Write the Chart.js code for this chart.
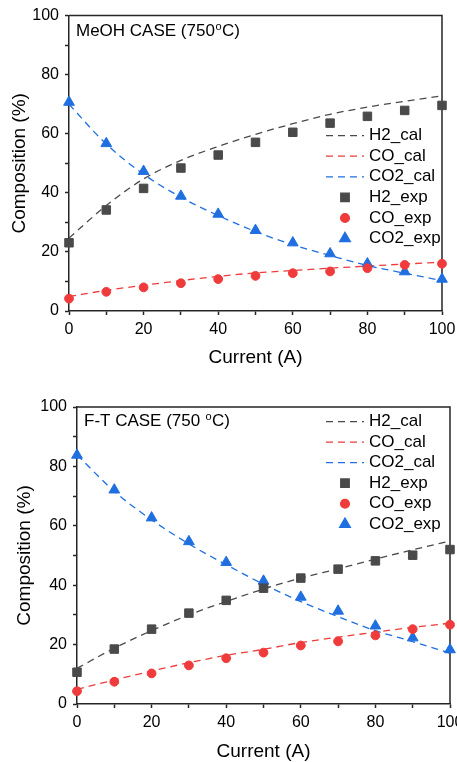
<!DOCTYPE html>
<html lang="en">
<head>
<meta charset="UTF-8">
<title>Syngas composition vs current</title>
<script src="https://cdn.jsdelivr.net/npm/chart.js"></script>
<style>
  html, body { margin: 0; padding: 0; background: #fff; overflow: hidden; }
  body { width: 457px; height: 762px; position: relative; }
  .panel { position: absolute; left: 0; width: 457px; overflow: hidden; }
  #topPanel { top: 0; height: 370px; }
  #bottomPanel { top: 385px; height: 377px; }
  .inner { position: relative; height: 100%; width: 480px; }
</style>
</head>
<body>
<div class="panel" id="topPanel"><div class="inner"><canvas id="meohChart"></canvas></div></div>
<div class="panel" id="bottomPanel"><div class="inner"><canvas id="ftChart"></canvas></div></div>

<script>
// current (A) and major tick values
const current = [0, 10, 20, 30, 40, 50, 60, 70, 80, 90, 100];
const majorTicks = [0, 20, 40, 60, 80, 100];

// MeOH case (750 C), composition %
const meohH2Cal  = [24.7, 35.7, 44.7, 51.0, 55.7, 59.8, 63.4, 66.6, 69.0, 71.0, 72.8];
const meohCOCal  = [4.9, 7.0, 8.7, 10.3, 11.7, 12.9, 13.7, 14.5, 15.2, 15.9, 16.5];
const meohCO2Cal = [70.0, 56.5, 46.3, 38.5, 32.3, 26.9, 22.4, 18.8, 15.4, 12.8, 10.3];
const meohH2Exp  = [23.1, 34.2, 41.5, 48.4, 52.8, 57.1, 60.5, 63.6, 65.9, 67.9, 69.6];
const meohCOExp  = [4.2, 6.5, 8.0, 9.4, 10.8, 11.9, 12.8, 13.4, 14.5, 15.6, 16.0];
const meohCO2Exp = [70.7, 56.7, 47.3, 38.9, 32.8, 27.3, 23.1, 19.4, 16.0, 13.3, 10.8];

// F-T case (750 C), composition %
const ftH2Cal  = [12.0, 18.8, 24.7, 30.0, 34.5, 38.7, 42.4, 45.5, 48.8, 51.9, 54.9];
const ftCOCal  = [4.9, 8.1, 11.1, 13.9, 16.4, 18.4, 20.7, 22.5, 24.2, 25.8, 27.2];
const ftCO2Cal = [83.9, 71.6, 62.0, 53.9, 46.9, 40.3, 34.5, 29.4, 24.7, 21.0, 17.1];
const ftH2Exp  = [10.7, 18.5, 25.2, 30.6, 34.9, 39.0, 42.4, 45.4, 48.2, 50.1, 52.0];
const ftCOExp  = [4.3, 7.5, 10.3, 13.0, 15.4, 17.3, 19.7, 21.1, 23.1, 25.2, 26.7];
const ftCO2Exp = [83.8, 72.1, 62.7, 54.7, 47.7, 41.4, 36.0, 31.3, 26.3, 22.3, 18.3];

const grey = '#4a4a4a';
const red = '#ef3b3b';
const blue = '#1f6fe0';
const axisColor = '#262626';
const axisWidth = 1.5;
const fontFamily = '"Liberation Sans", Arial, Helvetica, sans-serif';

const toXY = vals => vals.map((v, i) => ({ x: current[i], y: v }));

function calLine(label, vals, color) {
  return {
    label, data: toXY(vals), borderColor: color, backgroundColor: color,
    borderWidth: 1.3, borderDash: [7, 5], pointRadius: 0, pointHoverRadius: 0,
    tension: 0.4, cubicInterpolationMode: 'monotone', fill: false, order: 1
  };
}

function expPoints(label, vals, color, style, radius) {
  return {
    label, data: toXY(vals), showLine: false, clip: false,
    pointStyle: style, pointRadius: radius, pointHoverRadius: radius,
    pointBackgroundColor: color, pointBorderColor: color, pointBorderWidth: 1,
    borderColor: color, backgroundColor: color, order: 0
  };
}

function drawMarker(ctx, style, radius, x, y) {
  if (Chart.helpers && Chart.helpers.drawPoint) {
    Chart.helpers.drawPoint(ctx, { pointStyle: style, radius, borderWidth: 1, rotation: 0 }, x, y);
    return;
  }
  ctx.beginPath();
  if (style === 'rect') {
    const r = radius * Math.SQRT1_2;
    ctx.rect(x - r, y - r, 2 * r, 2 * r);
  } else if (style === 'triangle') {
    ctx.moveTo(x, y - radius);
    ctx.lineTo(x + radius * 0.866, y + radius / 2);
    ctx.lineTo(x - radius * 0.866, y + radius / 2);
    ctx.closePath();
  } else {
    ctx.arc(x, y, radius, 0, Math.PI * 2);
  }
  ctx.fill();
  ctx.stroke();
}

// box frame (top/right edges), panel caption and in-plot legend
const panelDecor = {
  id: 'panelDecor',
  beforeDatasetsDraw(chart) {
    const { ctx, chartArea: a } = chart;
    ctx.save();
    ctx.strokeStyle = axisColor;
    ctx.lineWidth = axisWidth;
    ctx.beginPath();
    ctx.moveTo(a.left, a.top);
    ctx.lineTo(a.right, a.top);
    ctx.lineTo(a.right, a.bottom);
    ctx.stroke();
    ctx.restore();
  },
  afterDraw(chart, args, opts) {
    const { ctx, chartArea: a } = chart;
    ctx.save();
    ctx.fillStyle = '#000';
    ctx.textBaseline = 'middle';
    ctx.textAlign = 'left';

    // caption with raised "o" for degrees
    const cap = opts.caption;
    let cx = a.left + cap.dx;
    const cy = a.top + cap.dy;
    ctx.font = '17px ' + fontFamily;
    ctx.fillText(cap.head, cx, cy);
    cx += ctx.measureText(cap.head).width + 0.5;
    ctx.font = '11px ' + fontFamily;
    ctx.fillText('o', cx, cy - 5);
    cx += ctx.measureText('o').width + 0.5;
    ctx.font = '17px ' + fontFamily;
    ctx.fillText(cap.tail, cx, cy);

    // legend
    const lg = opts.legend;
    const x0 = a.right - lg.fromRight;
    ctx.font = '17px ' + fontFamily;
    chart.data.datasets.forEach((ds, i) => {
      const y = a.top + lg.dy + i * lg.rowGap;
      ctx.strokeStyle = ds.borderColor;
      ctx.fillStyle = ds.borderColor;
      if (ds.showLine === false) {
        drawMarker(ctx, ds.pointStyle, ds.pointRadius, x0 + lg.lineLen / 2, y);
      } else {
        ctx.lineWidth = ds.borderWidth;
        ctx.setLineDash(ds.borderDash);
        ctx.beginPath();
        ctx.moveTo(x0, y);
        ctx.lineTo(x0 + lg.lineLen, y);
        ctx.stroke();
        ctx.setLineDash([]);
      }
      ctx.fillStyle = '#000';
      ctx.fillText(ds.label, x0 + lg.lineLen + lg.textGap, y);
    });
    ctx.restore();
  }
};

function axes(yWidth, yTitlePad, xHeight) {
  const tickFont = { family: fontFamily, size: 16 };
  const titleFont = { family: fontFamily, size: 19, lineHeight: 1 };
  const grid = { drawOnChartArea: false, tickLength: 4, color: axisColor, tickWidth: axisWidth };
  const label = v => (majorTicks.includes(v) ? v : '');
  return {
    x: {
      type: 'linear', min: 0, max: 100,
      afterFit: s => { s.height = xHeight; },
      border: { color: axisColor, width: axisWidth },
      grid,
      ticks: { stepSize: 10, autoSkip: false, maxRotation: 0, padding: 5, color: '#000', font: tickFont, callback: label },
      title: { display: true, text: 'Current (A)', color: '#000', font: titleFont, padding: 0 }
    },
    y: {
      type: 'linear', min: 0, max: 100,
      afterFit: s => { s.width = yWidth; },
      border: { color: axisColor, width: axisWidth },
      grid,
      ticks: { stepSize: 10, autoSkip: false, padding: 6, color: '#000', font: tickFont, callback: label },
      title: { display: true, text: 'Composition (%)', color: '#000', font: titleFont, padding: { top: yTitlePad, bottom: 0 } }
    }
  };
}

function makeChart(id, sets, cfg) {
  return new Chart(document.getElementById(id), {
    type: 'line',
    data: {
      datasets: [
        calLine('H2_cal', sets.h2Cal, grey),
        calLine('CO_cal', sets.coCal, red),
        calLine('CO2_cal', sets.co2Cal, blue),
        expPoints('H2_exp', sets.h2Exp, grey, 'rect', 6),
        expPoints('CO_exp', sets.coExp, red, 'circle', 4.4),
        expPoints('CO2_exp', sets.co2Exp, blue, 'triangle', 6.2)
      ]
    },
    options: {
      responsive: true,
      maintainAspectRatio: false,
      animation: false,
      devicePixelRatio: 1,
      layout: { padding: cfg.padding },
      scales: axes(cfg.yWidth, cfg.yTitlePad, cfg.xHeight),
      plugins: {
        legend: { display: false },
        tooltip: { enabled: false },
        panelDecor: { caption: cfg.caption, legend: cfg.legend }
      }
    },
    plugins: [panelDecor]
  });
}

// canvases are 480 wide; the panel clips them at 457
makeChart('meohChart', {
  h2Cal: meohH2Cal, coCal: meohCOCal, co2Cal: meohCO2Cal,
  h2Exp: meohH2Exp, coExp: meohCOExp, co2Exp: meohCO2Exp
}, {
  padding: { left: 0, top: 14, right: 38, bottom: 3 },
  yWidth: 69, yTitlePad: 10, xHeight: 56,
  caption: { head: 'MeOH CASE (750', tail: 'C)', dx: 7, dy: 16 },
  legend: { fromRight: 116, dy: 120, rowGap: 20.6, lineLen: 38, textGap: 5 }
});

makeChart('ftChart', {
  h2Cal: ftH2Cal, coCal: ftCOCal, co2Cal: ftCO2Cal,
  h2Exp: ftH2Exp, coExp: ftCOExp, co2Exp: ftCO2Exp
}, {
  padding: { left: 0, top: 22, right: 30, bottom: 1 },
  yWidth: 77, yTitlePad: 15.5, xHeight: 57,
  caption: { head: 'F-T CASE (750 ', tail: 'C)', dx: 7, dy: 14.7 },
  legend: { fromRight: 124, dy: 14.7, rowGap: 20.5, lineLen: 38, textGap: 5 }
});
</script>
</body>
</html>
